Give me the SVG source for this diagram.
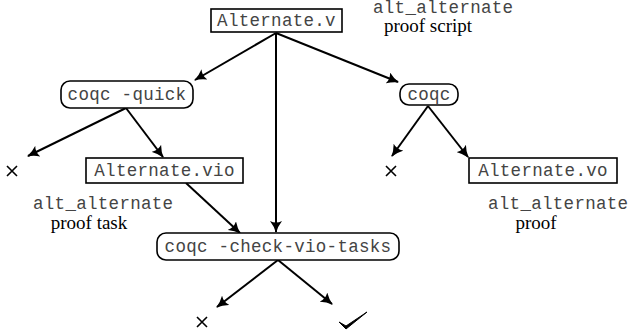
<svg xmlns="http://www.w3.org/2000/svg" width="629" height="333" viewBox="0 0 629 333">
<style>
.box{fill:#fff;stroke:#000;stroke-width:1.6}
.mono{font-family:"Liberation Mono","Courier New",monospace;font-size:17.5px;letter-spacing:0.3px;fill:#444}
.serif{font-family:"Liberation Serif","Times New Roman",serif;font-size:19px;fill:#000}
.edge{stroke:#000;stroke-width:2;fill:none;marker-end:url(#ah)}
.mark{stroke:#000;stroke-width:1.6;fill:none}
</style>
<defs>
<marker id="ah" markerWidth="14" markerHeight="12" refX="11" refY="6" orient="auto" markerUnits="userSpaceOnUse">
<path d="M0,0 Q5,4 12,6 Q5,8 0,12 Q3,6 0,0 Z" fill="#000"/>
</marker>
</defs>
<g id="connectors">
<line class="edge" x1="276" y1="33" x2="195" y2="80"/>
<line class="edge" x1="276" y1="33" x2="398" y2="82"/>
<line class="edge" x1="276" y1="33" x2="276" y2="232"/>
<line class="edge" x1="126" y1="108" x2="28" y2="156"/>
<line class="edge" x1="126" y1="108" x2="163" y2="157"/>
<line class="edge" x1="428" y1="106" x2="392" y2="156"/>
<line class="edge" x1="428" y1="106" x2="468" y2="157"/>
<line class="edge" x1="186" y1="183" x2="240" y2="233"/>
<line class="edge" x1="278" y1="260" x2="217" y2="307"/>
<line class="edge" x1="278" y1="260" x2="332" y2="304"/>
</g>
<g id="alternate_v">
<rect class="box" x="211" y="9" width="131" height="23"/>
<text class="mono" x="276.5" y="26" text-anchor="middle">Alternate.v</text>
</g>
<g id="label_script">
<text class="mono" x="373" y="13">alt_alternate</text>
<text class="serif" x="428" y="32" text-anchor="middle">proof script</text>
</g>
<g id="coqc_quick">
<rect class="box" x="61" y="81" width="132" height="27" rx="9"/>
<text class="mono" x="127" y="100" text-anchor="middle">coqc -quick</text>
</g>
<g id="coqc">
<rect class="box" x="400" y="84" width="58" height="21" rx="9"/>
<text class="mono" x="429" y="100" text-anchor="middle">coqc</text>
</g>
<g id="alternate_vio">
<rect class="box" x="86" y="158" width="157" height="25"/>
<text class="mono" x="164.5" y="176" text-anchor="middle">Alternate.vio</text>
</g>
<g id="alternate_vo">
<rect class="box" x="469" y="158" width="148" height="25"/>
<text class="mono" x="543" y="176" text-anchor="middle">Alternate.vo</text>
</g>
<g id="label_task">
<text class="mono" x="33" y="209">alt_alternate</text>
<text class="serif" x="89" y="229" text-anchor="middle">proof task</text>
</g>
<g id="label_proof">
<text class="mono" x="488" y="209">alt_alternate</text>
<text class="serif" x="536" y="229" text-anchor="middle">proof</text>
</g>
<g id="check_vio">
<rect class="box" x="157" y="233" width="242" height="27" rx="9"/>
<text class="mono" x="278" y="252" text-anchor="middle">coqc -check-vio-tasks</text>
</g>
<g id="fail1"><path class="mark" d="M7,166 L17,176 M17,166 L7,176"/></g>
<g id="fail2"><path class="mark" d="M386,166 L396,176 M396,166 L386,176"/></g>
<g id="fail3"><path class="mark" d="M197,317 L207,327 M207,317 L197,327"/></g>
<g id="ok"><path d="M339,322 L346,329 L367,312 L346,326 Z" fill="#000" stroke="#000" stroke-width="1"/></g>
</svg>
